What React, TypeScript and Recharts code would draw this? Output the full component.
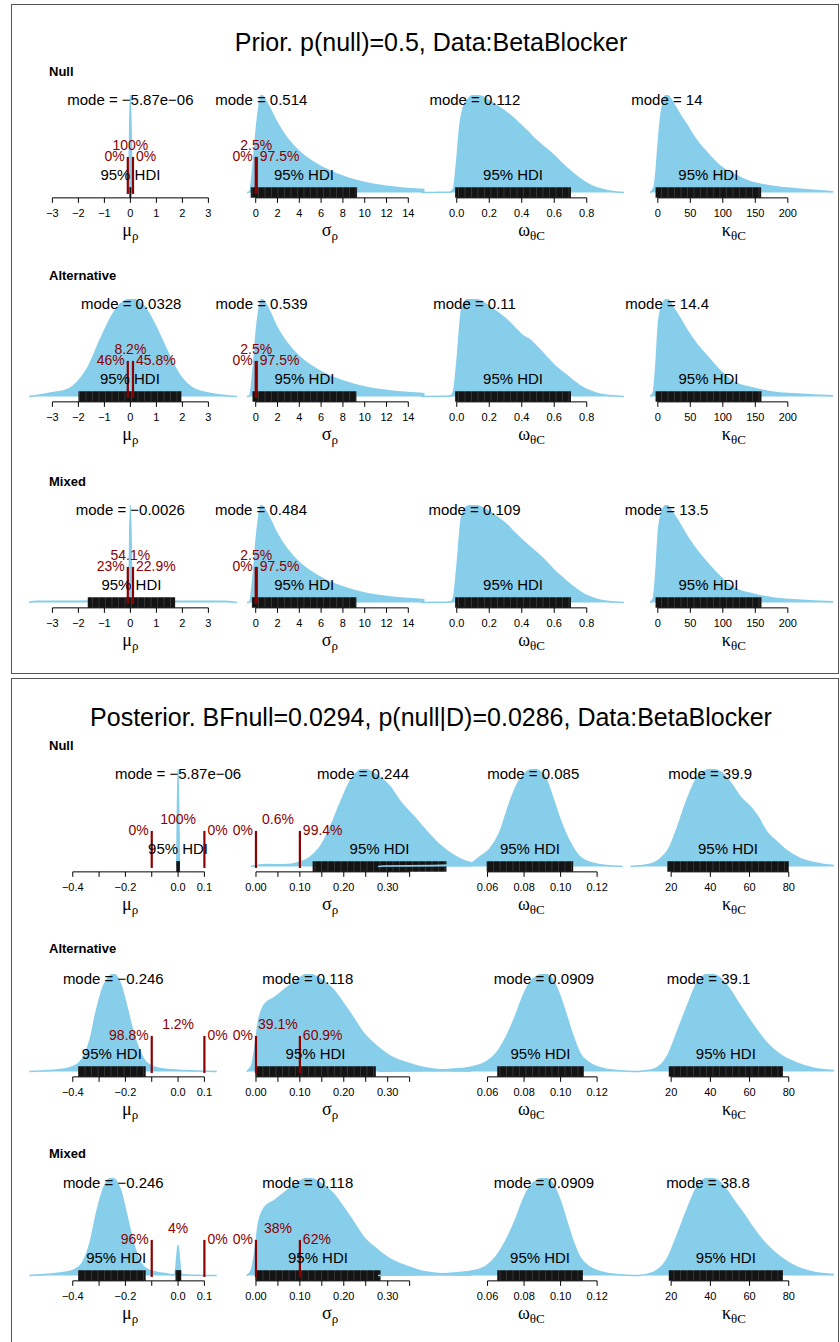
import React from "react";
import {
  ComposedChart,
  Area,
  XAxis,
  YAxis,
  ReferenceArea,
  ReferenceLine,
  ReferenceDot,
} from "recharts";

type Pt = [number, number];
type Seg = [number, number];

// densities: [x, height relative to the panel's peak]

// ---- prior ----
const priorNullMu: Pt[] = [[-0.06, 0], [0, 1], [0.06, 0]];
const priorAltMu: Pt[] = [
  [-3.9, 0], [-3.5, 0.015], [-3.08, 0.035], [-2.44, 0.07], [-2, 0.16], [-1.67, 0.28],
  [-1.15, 0.59], [-0.64, 0.86], [-0.38, 0.95], [0.03, 1], [0.51, 0.93], [1.03, 0.69],
  [1.41, 0.47], [1.92, 0.21], [2.44, 0.08], [3.2, 0.025], [4.1, 0],
];
const priorMixedMu: Pt[] = [
  [-3.9, 0], [-3.6, 0.012], [-2, 0.014], [-1, 0.015], [-0.07, 0.016], [0, 1],
  [0.07, 0.016], [1, 0.015], [2, 0.014], [3.6, 0.012], [4.1, 0],
];
const priorNullSigma: Pt[] = [
  [-0.8, 0], [-0.55, 0.01], [-0.25, 0.27], [0.06, 0.66], [0.37, 0.94], [0.514, 1],
  [0.98, 0.93], [1.9, 0.73], [2.8, 0.57], [4, 0.42], [5.6, 0.29], [7, 0.21],
  [8.6, 0.145], [10.1, 0.1], [12, 0.065], [14, 0.042], [15.5, 0.03],
];
const priorAltSigma: Pt[] = [
  [-0.8, 0], [-0.55, 0.01], [-0.25, 0.27], [0.06, 0.68], [0.37, 0.94], [0.539, 1],
  [0.98, 0.94], [1.9, 0.72], [2.8, 0.56], [4, 0.41], [5.6, 0.28], [7, 0.2],
  [8.6, 0.14], [10.1, 0.095], [12, 0.062], [14, 0.04], [15.5, 0.028],
];
const priorMixedSigma: Pt[] = [
  [-0.8, 0], [-0.55, 0.01], [-0.25, 0.26], [0.06, 0.67], [0.37, 0.95], [0.484, 1],
  [0.98, 0.93], [1.9, 0.72], [2.8, 0.56], [4, 0.41], [5.6, 0.28], [7, 0.2],
  [8.6, 0.14], [10.1, 0.095], [12, 0.062], [14, 0.04], [15.5, 0.028],
];
const priorNullOmega: Pt[] = [
  [-0.22, 0], [-0.1, 0.003], [-0.04, 0.006], [-0.02, 0.04], [0, 0.33], [0.02, 0.7],
  [0.04, 0.87], [0.07, 0.96], [0.112, 1], [0.16, 0.98], [0.22, 0.92], [0.3, 0.83],
  [0.39, 0.7], [0.44, 0.62], [0.48, 0.55], [0.55, 0.45], [0.6, 0.38], [0.64, 0.31],
  [0.7, 0.22], [0.76, 0.14], [0.8, 0.095], [0.85, 0.055], [0.9, 0.03], [0.95, 0.012],
  [1.03, 0],
];
const priorAltOmega: Pt[] = [
  [-0.22, 0], [-0.1, 0.003], [-0.04, 0.005], [-0.02, 0.05], [0, 0.34], [0.03, 0.89],
  [0.06, 0.99], [0.11, 1], [0.16, 0.97], [0.22, 0.9], [0.3, 0.8], [0.36, 0.7],
  [0.41, 0.62], [0.45, 0.58], [0.5, 0.5], [0.55, 0.41], [0.6, 0.32], [0.66, 0.24],
  [0.71, 0.17], [0.76, 0.11], [0.81, 0.065], [0.86, 0.034], [0.91, 0.015],
  [0.96, 0.007], [1.03, 0],
];
const priorMixedOmega: Pt[] = [
  [-0.22, 0], [-0.1, 0.003], [-0.04, 0.005], [-0.02, 0.05], [0, 0.35], [0.03, 0.88],
  [0.06, 0.98], [0.109, 1], [0.16, 0.97], [0.22, 0.91], [0.3, 0.81], [0.36, 0.71],
  [0.41, 0.63], [0.45, 0.57], [0.5, 0.5], [0.55, 0.42], [0.6, 0.33], [0.66, 0.24],
  [0.71, 0.17], [0.76, 0.11], [0.81, 0.065], [0.86, 0.034], [0.91, 0.015],
  [0.96, 0.007], [1.03, 0],
];
const priorNullKappa: Pt[] = [
  [-12, 0], [-6, 0.05], [-3, 0.2], [0, 0.45], [4, 0.75], [8, 0.92], [11, 0.99],
  [14, 1], [20, 0.96], [28, 0.87], [36, 0.78], [45, 0.69], [55, 0.58], [65, 0.49],
  [73, 0.43], [85, 0.34], [96, 0.27], [110, 0.21], [122, 0.17], [135, 0.13],
  [147, 0.1], [160, 0.083], [173, 0.068], [200, 0.045], [225, 0.03], [250, 0.017],
  [270, 0.008],
];
const priorAltKappa: Pt[] = [
  [-12, 0], [-7, 0.04], [-3.5, 0.27], [1.5, 0.78], [8, 0.96], [14.4, 1], [22, 0.93],
  [30, 0.85], [45, 0.68], [60.6, 0.53], [81, 0.375], [96.5, 0.26], [117, 0.15],
  [148, 0.085], [178, 0.044], [209, 0.027], [240, 0.016], [270, 0.008],
];
const priorMixedKappa: Pt[] = [
  [-12, 0], [-7, 0.04], [-3.5, 0.26], [1.5, 0.77], [8, 0.96], [13.5, 1], [22, 0.93],
  [30, 0.85], [45, 0.68], [60.6, 0.53], [81, 0.37], [96.5, 0.26], [117, 0.15],
  [148, 0.085], [178, 0.045], [209, 0.027], [240, 0.016], [270, 0.008],
];

// ---- posterior ----
const postNullMu: Pt[] = [[-0.005, 0], [0, 1], [0.005, 0]];
const postAltMu: Pt[] = [
  [-0.565, 0], [-0.486, 0.01], [-0.423, 0.03], [-0.376, 0.09], [-0.334, 0.33],
  [-0.309, 0.64], [-0.283, 0.88], [-0.258, 0.98], [-0.246, 1], [-0.22, 0.91],
  [-0.195, 0.67], [-0.17, 0.4], [-0.144, 0.2], [-0.119, 0.09], [-0.068, 0.03],
  [0.02, 0.01], [0.147, 0],
];
const postMixedMu: Pt[] = [
  [-0.565, 0], [-0.423, 0.035], [-0.372, 0.1], [-0.334, 0.34], [-0.309, 0.65],
  [-0.284, 0.89], [-0.252, 1], [-0.22, 0.89], [-0.195, 0.62], [-0.17, 0.34],
  [-0.144, 0.14], [-0.106, 0.05], [-0.043, 0.017], [-0.018, 0.007], [-0.012, 0.01],
  [-0.006, 0.15], [0, 0.31], [0.006, 0.15], [0.012, 0.01], [0.033, 0.006], [0.147, 0],
];
const postNullSigma: Pt[] = [
  [-0.012, 0], [0, 0.01], [0.024, 0.02], [0.062, 0.017], [0.1, 0.044], [0.123, 0.095],
  [0.146, 0.2], [0.169, 0.4], [0.191, 0.64], [0.214, 0.87], [0.244, 1], [0.275, 0.94],
  [0.305, 0.82], [0.328, 0.67], [0.358, 0.52], [0.389, 0.36], [0.419, 0.22],
  [0.449, 0.12], [0.475, 0.06], [0.49, 0.04],
];
const postAltSigma: Pt[] = [
  [-0.021, 0], [-0.01, 0.06], [-0.002, 0.26], [0.005, 0.5], [0.017, 0.67],
  [0.024, 0.71], [0.039, 0.75], [0.062, 0.83], [0.085, 0.91], [0.118, 1],
  [0.135, 0.98], [0.153, 0.93], [0.176, 0.84], [0.199, 0.7], [0.222, 0.55],
  [0.244, 0.4], [0.275, 0.26], [0.305, 0.16], [0.351, 0.08], [0.374, 0.05],
  [0.43, 0.015], [0.49, 0.004],
];
const postMixedSigma: Pt[] = [
  [-0.021, 0], [-0.01, 0.06], [-0.002, 0.27], [0.005, 0.52], [0.017, 0.68],
  [0.024, 0.72], [0.039, 0.76], [0.062, 0.84], [0.085, 0.92], [0.118, 1],
  [0.135, 0.98], [0.153, 0.93], [0.176, 0.84], [0.199, 0.7], [0.222, 0.55],
  [0.244, 0.4], [0.275, 0.27], [0.305, 0.17], [0.351, 0.085], [0.374, 0.05],
  [0.43, 0.015], [0.49, 0.004],
];
const postNullOmega: Pt[] = [
  [0, 0], [0.003, 0.006], [0.03, 0.01], [0.045, 0.02], [0.0512, 0.037],
  [0.0558, 0.1], [0.0613, 0.18], [0.0667, 0.35], [0.0722, 0.66], [0.0759, 0.83],
  [0.0814, 0.97], [0.085, 1], [0.0905, 0.95], [0.096, 0.69], [0.0996, 0.49],
  [0.1051, 0.25], [0.1105, 0.1], [0.1178, 0.034], [0.1252, 0.01], [0.134, 0],
];
const postAltOmega: Pt[] = [
  [0, 0], [0.005, 0.005], [0.023, 0.01], [0.0412, 0.025], [0.0521, 0.05],
  [0.0594, 0.1], [0.0649, 0.19], [0.0704, 0.36], [0.0759, 0.6], [0.0795, 0.78],
  [0.085, 0.95], [0.0909, 1], [0.095, 0.96], [0.0996, 0.78], [0.1033, 0.57],
  [0.1069, 0.36], [0.1105, 0.19], [0.116, 0.086], [0.1252, 0.024], [0.1345, 0.006],
  [0.143, 0],
];
const postMixedOmega: Pt[] = [
  [0, 0], [0.005, 0.005], [0.023, 0.01], [0.0412, 0.025], [0.0521, 0.05],
  [0.0594, 0.1], [0.0649, 0.2], [0.0704, 0.37], [0.0759, 0.6], [0.0795, 0.78],
  [0.085, 0.95], [0.0909, 1], [0.095, 0.96], [0.0996, 0.78], [0.1033, 0.56],
  [0.1069, 0.35], [0.1105, 0.19], [0.116, 0.085], [0.1252, 0.024], [0.1345, 0.006],
  [0.143, 0],
];
const postNullKappa: Pt[] = [
  [-0.8, 0], [7.8, 0.017], [14.5, 0.08], [18.8, 0.18], [23, 0.39], [28.2, 0.69],
  [33.3, 0.91], [38.4, 0.99], [39.9, 1], [45.2, 0.97], [50.3, 0.86], [55.4, 0.71],
  [60.5, 0.61], [63.9, 0.52], [69, 0.35], [74.1, 0.25], [79.2, 0.16], [86, 0.08],
  [94.5, 0.034], [103, 0.01],
];
const postAltKappa: Pt[] = [
  [3.5, 0], [11.1, 0.024], [18, 0.155], [23, 0.4], [28.2, 0.67], [33.3, 0.91],
  [39.1, 1], [43.5, 0.98], [48.6, 0.88], [55.4, 0.67], [62.1, 0.47], [69, 0.29],
  [75.8, 0.17], [84.3, 0.086], [92.8, 0.034], [103, 0.01],
];
const postMixedKappa: Pt[] = [
  [3.5, 0], [11.1, 0.034], [18, 0.17], [23, 0.41], [28.2, 0.68], [33.3, 0.91],
  [38.8, 1], [43.5, 0.98], [48.6, 0.87], [53.7, 0.72], [57.1, 0.63], [62.1, 0.48],
  [69, 0.31], [75.8, 0.19], [84.3, 0.086], [92.8, 0.034], [103, 0.01],
];

// modes (value, printed text)
const priorNullModes = [-5.87e-6, 0.514, 0.112, 14];
const priorNullModeText = ["\u22125.87e\u221206", "0.514", "0.112", "14"];
const priorAltModes = [0.0328, 0.539, 0.11, 14.4];
const priorAltModeText = ["0.0328", "0.539", "0.11", "14.4"];
const priorMixedModes = [-0.0026, 0.484, 0.109, 13.5];
const priorMixedModeText = ["\u22120.0026", "0.484", "0.109", "13.5"];
const postNullModes = [-5.87e-6, 0.244, 0.085, 39.9];
const postNullModeText = ["\u22125.87e\u221206", "0.244", "0.085", "39.9"];
const postAltModes = [-0.246, 0.118, 0.0909, 39.1];
const postAltModeText = ["\u22120.246", "0.118", "0.0909", "39.1"];
const postMixedModes = [-0.246, 0.118, 0.0909, 38.8];
const postMixedModeText = ["\u22120.246", "0.118", "0.0909", "38.8"];

// 95% HDI intervals
const priorNullHdi: Seg[][] = [[[-0.04, 0.04]], [[-0.46, 9.3]], [[-0.01, 0.703]], [[-3.5, 159]]];
const priorAltHdi: Seg[][] = [[[-2.0, 1.96]], [[-0.3, 9.24]], [[-0.01, 0.703]], [[-3.5, 159.5]]];
const priorMixedHdi: Seg[][] = [[[-1.64, 1.72]], [[-0.35, 9.24]], [[-0.01, 0.703]], [[-3.5, 159.5]]];
const postNullHdi: Seg[][] = [[[-0.007, 0.007]], [[0.129, 0.434]], [[0.0595, 0.1069]], [[18, 80]]];
const postAltHdi: Seg[][] = [[[-0.38, -0.123]], [[-0.0016, 0.273]], [[0.0653, 0.1127]], [[18.8, 77]]];
const postMixedHdi: Seg[][] = [
  [[-0.38, -0.123], [-0.01, 0.012]], [[-0.0016, 0.284]], [[0.0653, 0.1122]], [[18.8, 77]],
];

// percentages around the comparison lines: [below, between, above]
const priorNullPct = [["0%", "100%", "0%"], ["0%", "2.5%", "97.5%"]];
const priorAltPct = [["46%", "8.2%", "45.8%"], ["0%", "2.5%", "97.5%"]];
const priorMixedPct = [["23%", "54.1%", "22.9%"], ["0%", "2.5%", "97.5%"]];
const postNullPct = [["0%", "100%", "0%"], ["0%", "0.6%", "99.4%"]];
const postAltPct = [["98.8%", "1.2%", "0%"], ["0%", "39.1%", "60.9%"]];
const postMixedPct = [["96%", "4%", "0%"], ["0%", "38%", "62%"]];

// axis ticks
const priorMuTicks = [-3, -2, -1, 0, 1, 2, 3];
const priorMuLabels = ["\u22123", "\u22122", "\u22121", "0", "1", "2", "3"];
const priorSigmaTicks = [0, 2, 4, 6, 8, 10, 12, 14];
const priorSigmaLabels = ["0", "2", "4", "6", "8", "10", "12", "14"];
const priorOmegaTicks = [0, 0.2, 0.4, 0.6, 0.8];
const priorOmegaLabels = ["0.0", "0.2", "0.4", "0.6", "0.8"];
const priorKappaTicks = [0, 50, 100, 150, 200];
const priorKappaLabels = ["0", "50", "100", "150", "200"];
const postMuTicks = [-0.4, -0.3, -0.2, -0.1, 0, 0.1];
const postMuLabels = ["\u22120.4", "", "\u22120.2", "", "0.0", "0.1"];
const postSigmaTicks = [0, 0.05, 0.1, 0.15, 0.2, 0.25, 0.3, 0.35];
const postSigmaLabels = ["0.00", "", "0.10", "", "0.20", "", "0.30", ""];
const postOmegaTicks = [0.06, 0.08, 0.1, 0.12];
const postOmegaLabels = ["0.06", "0.08", "0.10", "0.12"];
const postKappaTicks = [20, 40, 60, 80];
const postKappaLabels = ["20", "40", "60", "80"];

const muRope: Seg = [-0.1, 0.1];
const sigmaRope: Seg = [0, 0.1];

const FONT = '"Liberation Sans", Arial, Helvetica, sans-serif';
const SERIF = '"Liberation Serif", "DejaVu Serif", serif';
const SKY = "#87CEEB";
const DARKRED = "#8B0000";
const UNIT = 97.5; // px for a relative height of 1
const Y_MIN = -0.055;
const MT = 20;
const ML = 80;
const MR = 80;
const AXIS_H = 50;

type Col = {
  a: number; // pixel of x = 0
  b: number; // pixels per unit
  region: Seg;
  ticks: number[];
  tickLabels: string[];
  labelAt: number;
  sym: string;
  sub: string;
  rope?: Seg;
};

const priorCols: Col[] = [
  { a: 130, b: 26, region: [-3.9, 4.1], ticks: priorMuTicks, tickLabels: priorMuLabels, labelAt: 0, sym: "\u03bc", sub: "\u03c1", rope: muRope },
  { a: 256, b: 10.9, region: [-0.8, 15.5], ticks: priorSigmaTicks, tickLabels: priorSigmaLabels, labelAt: 6.8, sym: "\u03c3", sub: "\u03c1", rope: sigmaRope },
  { a: 456.7, b: 162.5, region: [-0.22, 1.03], ticks: priorOmegaTicks, tickLabels: priorOmegaLabels, labelAt: 0.46, sym: "\u03c9", sub: "\u03b8C" },
  { a: 657.3, b: 0.65, region: [-12, 270], ticks: priorKappaTicks, tickLabels: priorKappaLabels, labelAt: 117, sym: "\u03ba", sub: "\u03b8C" },
];
const postCols: Col[] = [
  { a: 178, b: 263.3, region: [-0.57, 0.15], ticks: postMuTicks, tickLabels: postMuLabels, labelAt: -0.182, sym: "\u03bc", sub: "\u03c1", rope: muRope },
  { a: 256, b: 439, region: [-0.025, 0.49], ticks: postSigmaTicks, tickLabels: postSigmaLabels, labelAt: 0.169, sym: "\u03c3", sub: "\u03c1", rope: sigmaRope },
  { a: 378.1, b: 1826, region: [0, 0.143], ticks: postOmegaTicks, tickLabels: postOmegaLabels, labelAt: 0.084, sym: "\u03c9", sub: "\u03b8C" },
  { a: 631.5, b: 1.96, region: [-1, 103], ticks: postKappaTicks, tickLabels: postKappaLabels, labelAt: 52, sym: "\u03ba", sub: "\u03b8C" },
];

type Row = {
  name: string;
  labelY: number;
  baseY: number;
  curves: Pt[][];
  modes: number[];
  modeText: string[];
  hdi: Seg[][];
  hdiAt?: (number | undefined)[];
  pct: string[][];
};

const priorRows: Row[] = [
  { name: "Null", labelY: 72, baseY: 192, curves: [priorNullMu, priorNullSigma, priorNullOmega, priorNullKappa], modes: priorNullModes, modeText: priorNullModeText, hdi: priorNullHdi, pct: priorNullPct },
  { name: "Alternative", labelY: 276, baseY: 396.7, curves: [priorAltMu, priorAltSigma, priorAltOmega, priorAltKappa], modes: priorAltModes, modeText: priorAltModeText, hdi: priorAltHdi, pct: priorAltPct },
  { name: "Mixed", labelY: 482, baseY: 602, curves: [priorMixedMu, priorMixedSigma, priorMixedOmega, priorMixedKappa], modes: priorMixedModes, modeText: priorMixedModeText, hdi: priorMixedHdi, pct: priorMixedPct },
];
const postRows: Row[] = [
  { name: "Null", labelY: 746, baseY: 866, curves: [postNullMu, postNullSigma, postNullOmega, postNullKappa], modes: postNullModes, modeText: postNullModeText, hdi: postNullHdi, pct: postNullPct },
  { name: "Alternative", labelY: 949, baseY: 1071, curves: [postAltMu, postAltSigma, postAltOmega, postAltKappa], modes: postAltModes, modeText: postAltModeText, hdi: postAltHdi, pct: postAltPct },
  { name: "Mixed", labelY: 1154, baseY: 1275.5, curves: [postMixedMu, postMixedSigma, postMixedOmega, postMixedKappa], modes: postMixedModes, modeText: postMixedModeText, hdi: postMixedHdi, hdiAt: [-0.235], pct: postMixedPct },
];

const textStyle = { fontFamily: FONT, fill: "#000" };

function Subplot({ col, row, i }: { col: Col; row: Row; i: number }) {
  const [x0, x1] = col.region;
  const plotW = col.b * (x1 - x0);
  const width = plotW + ML + MR;
  const height = MT + (1 - Y_MIN) * UNIT + AXIS_H;
  const left = col.a + col.b * x0 - ML;
  const top = row.baseY - UNIT - MT;
  const data = row.curves[i].map(([x, y]) => ({ x, y }));
  const segs = row.hdi[i];
  const hdiAt = row.hdiAt?.[i] ?? (segs[0][0] + segs[0][1]) / 2;
  const pct = col.rope ? row.pct[i] : null;
  const fmt = (v: number) => {
    const k = col.ticks.findIndex((t) => Math.abs(t - v) < 1e-9);
    return k >= 0 ? col.tickLabels[k] : "";
  };
  const axisTitle = (props: any) => {
    const vb = props.viewBox || {};
    const x = (vb.x ?? 0) + (vb.width ?? 0) / 2;
    const y = (vb.y ?? 0) + (vb.height ?? 0) / 2 + 38;
    return (
      <text x={x} y={y} textAnchor="middle" fill="#000">
        <tspan fontFamily={SERIF} fontSize={18}>{col.sym}</tspan>
        <tspan fontFamily={SERIF} fontSize={13} dy={4}>{col.sub}</tspan>
      </text>
    );
  };

  return (
    <div style={{ position: "absolute", left, top, width, height }}>
      <ComposedChart
        width={width}
        height={height}
        data={data}
        margin={{ top: MT, right: MR, bottom: 0, left: ML }}
      >
        <XAxis
          type="number"
          dataKey="x"
          domain={col.region}
          allowDataOverflow
          ticks={col.ticks}
          interval={0}
          tickFormatter={fmt}
          axisLine={false}
          tickLine={{ stroke: "#000" }}
          tickSize={5}
          tickMargin={6}
          height={AXIS_H}
          tick={{ fill: "#000", fontSize: 11, fontFamily: FONT }}
        />
        <YAxis hide type="number" domain={[Y_MIN, 1]} allowDataOverflow />
        <Area
          type="monotone"
          dataKey="y"
          baseValue={0}
          stroke={SKY}
          strokeWidth={1.5}
          fill={SKY}
          fillOpacity={1}
          dot={false}
          activeDot={false}
          isAnimationActive={false}
        />
        <ReferenceLine
          segment={[
            { x: col.ticks[0], y: Y_MIN },
            { x: col.ticks[col.ticks.length - 1], y: Y_MIN },
          ]}
          stroke="#000"
          strokeWidth={1}
          ifOverflow="visible"
        />
        {segs.map((s, k) => (
          <ReferenceArea
            key={k}
            x1={s[0]}
            x2={s[1]}
            y1={-0.055}
            y2={0.055}
            fill="url(#hdiStripe)"
            fillOpacity={1}
            stroke="none"
            ifOverflow="visible"
          />
        ))}
        {col.rope &&
          col.rope.map((r, k) => (
            <ReferenceLine
              key={k}
              segment={[
                { x: r, y: -0.015 },
                { x: r, y: 0.365 },
              ]}
              stroke={DARKRED}
              strokeWidth={2.2}
              ifOverflow="visible"
            />
          ))}
        {col.rope && pct && (
          <ReferenceDot
            x={col.rope[0]}
            y={0.37}
            r={0}
            fill="none"
            stroke="none"
            ifOverflow="visible"
            label={{ value: pct[0], position: "left", offset: 3, fill: DARKRED, fontSize: 14, fontFamily: FONT }}
          />
        )}
        {col.rope && pct && (
          <ReferenceDot
            x={(col.rope[0] + col.rope[1]) / 2}
            y={0.49}
            r={0}
            fill="none"
            stroke="none"
            ifOverflow="visible"
            label={{ value: pct[1], position: "center", fill: DARKRED, fontSize: 14, fontFamily: FONT }}
          />
        )}
        {col.rope && pct && (
          <ReferenceDot
            x={col.rope[1]}
            y={0.37}
            r={0}
            fill="none"
            stroke="none"
            ifOverflow="visible"
            label={{ value: pct[2], position: "right", offset: 3, fill: DARKRED, fontSize: 14, fontFamily: FONT }}
          />
        )}
        <ReferenceDot
          x={row.modes[i]}
          y={0.955}
          r={0}
          fill="none"
          stroke="none"
          ifOverflow="visible"
          label={{ value: `mode = ${row.modeText[i]}`, position: "center", fontSize: 15, ...textStyle }}
        />
        <ReferenceDot
          x={hdiAt}
          y={0.18}
          r={0}
          fill="none"
          stroke="none"
          ifOverflow="visible"
          label={{ value: "95% HDI", position: "center", fontSize: 15, ...textStyle }}
        />
        <ReferenceDot
          x={col.labelAt}
          y={Y_MIN}
          r={0}
          fill="none"
          stroke="none"
          ifOverflow="visible"
          label={axisTitle}
        />
      </ComposedChart>
    </div>
  );
}

function Panel({ rows, cols }: { rows: Row[]; cols: Col[] }) {
  return (
    <>
      {rows.map((row) => (
        <React.Fragment key={row.name + row.baseY}>
          <div
            style={{
              position: "absolute",
              left: 49,
              top: row.labelY - 8,
              height: 16,
              lineHeight: "16px",
              fontSize: 13,
              fontWeight: "bold",
              fontFamily: FONT,
              color: "#000",
            }}
          >
            {row.name}
          </div>
          {cols.map((col, i) => (
            <Subplot key={i} col={col} row={row} i={i} />
          ))}
        </React.Fragment>
      ))}
    </>
  );
}

function Title({ y, text }: { y: number; text: string }) {
  return (
    <div
      style={{
        position: "absolute",
        left: 0,
        width: 862,
        top: y - 15,
        height: 30,
        lineHeight: "30px",
        textAlign: "center",
        fontSize: 25,
        fontFamily: FONT,
        color: "#000",
        whiteSpace: "nowrap",
      }}
    >
      {text}
    </div>
  );
}

const frame = (top: number, height: number): React.CSSProperties => ({
  position: "absolute",
  left: 11,
  top,
  width: 828,
  height,
  border: "1.5px solid #555",
  boxSizing: "border-box",
});

export default function App() {
  return (
    <div
      style={{
        position: "absolute",
        left: 0,
        top: 0,
        width: 840,
        height: 1342,
        overflow: "hidden",
        background: "#fff",
        fontFamily: FONT,
      }}
    >
      <svg width={0} height={0} style={{ position: "absolute" }}>
        <defs>
          <pattern id="hdiStripe" width={6.5} height={20} patternUnits="userSpaceOnUse">
            <rect width={6.5} height={20} fill="#141414" />
            <rect x={0} width={0.8} height={20} fill="#3a3a3a" />
          </pattern>
        </defs>
      </svg>
      <div style={frame(4, 670)} />
      <div style={frame(678, 700)} />
      <Title y={42} text="Prior. p(null)=0.5, Data:BetaBlocker" />
      <Title y={717} text="Posterior. BFnull=0.0294, p(null|D)=0.0286, Data:BetaBlocker" />
      <Panel rows={priorRows} cols={priorCols} />
      <Panel rows={postRows} cols={postCols} />
    </div>
  );
}
